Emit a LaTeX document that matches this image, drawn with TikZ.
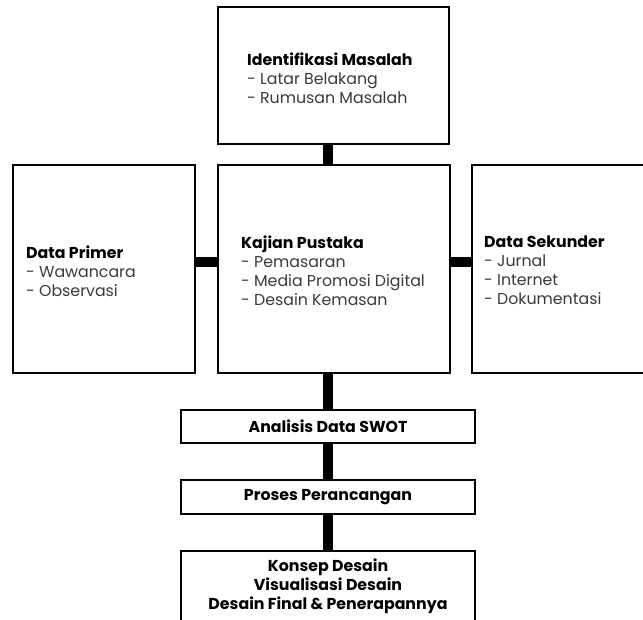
\documentclass[tikz,border=0pt]{standalone}
\usepackage{fontspec}
\setmainfont{Poppins}
\definecolor{txtgray}{HTML}{3A3A3A}
\begin{document}
\begin{tikzpicture}[x=1pt,y=-1pt,
  box/.style={draw=black,line width=2pt,fill=white,inner sep=0pt,outer sep=0pt},
  conn/.style={line width=9.5pt,black},
  list/.style={align=left,anchor=west,inner sep=0pt,font=\fontsize{15.8}{19}\selectfont,text=txtgray},
  ctr/.style={align=center,inner sep=0pt,font=\fontsize{15.8}{19}\selectfont\bfseries}]
\clip (0,0) rectangle (643,619);
\fill[white] (0,0) rectangle (643,619);
% boxes
\node[box,minimum width=231pt,minimum height=137pt] (top) at (333.5,75.5) {};
\node[box,minimum width=232pt,minimum height=208pt] (mid) at (334,269) {};
\node[box,minimum width=182pt,minimum height=208pt] (left) at (104,269) {};
\node[box,minimum width=200pt,minimum height=208pt] (right) at (572,269) {};
\node[box,minimum width=294pt,minimum height=33pt] (swot) at (328,426.5) {};
\node[box,minimum width=294pt,minimum height=34pt] (proses) at (328,497) {};
\node[box,minimum width=294pt,minimum height=80pt] (konsep) at (328,591) {};
% connectors
\draw[conn] (top.south -| 328,0) -- (mid.north -| 328,0);
\draw[conn] (left.east |- 0,262) -- (mid.west |- 0,262);
\draw[conn] (mid.east |- 0,262) -- (right.west |- 0,262);
\draw[conn] (mid.south -| 328,0) -- (swot.north);
\draw[conn] (swot.south) -- (proses.north);
\draw[conn] (proses.south) -- (konsep.north);
% texts
\node[list] (ttop) at (247,78) {{\bfseries\color{black}Identifikasi Masalah}\\- Latar Belakang\\- Rumusan Masalah};
\node[list] (tmid) at (241,271) {{\bfseries\color{black}Kajian Pustaka}\\- Pemasaran\\- Media Promosi Digital\\- Desain Kemasan};
\node[list] (tleft) at (26,271) {{\bfseries\color{black}Data Primer}\\- Wawancara\\- Observasi};
\node[list] (tright) at (484,270) {{\bfseries\color{black}Data Sekunder}\\- Jurnal\\- Internet\\- Dokumentasi};
\node[ctr] (tswot) at (swot.center) {Analisis Data SWOT};
\node[ctr] (tproses) at (proses.center) {Proses Perancangan};
\node[ctr] (tkonsep) at (328,586) {Konsep Desain\\Visualisasi Desain\\Desain Final \& Penerapannya};
\end{tikzpicture}
\end{document}
